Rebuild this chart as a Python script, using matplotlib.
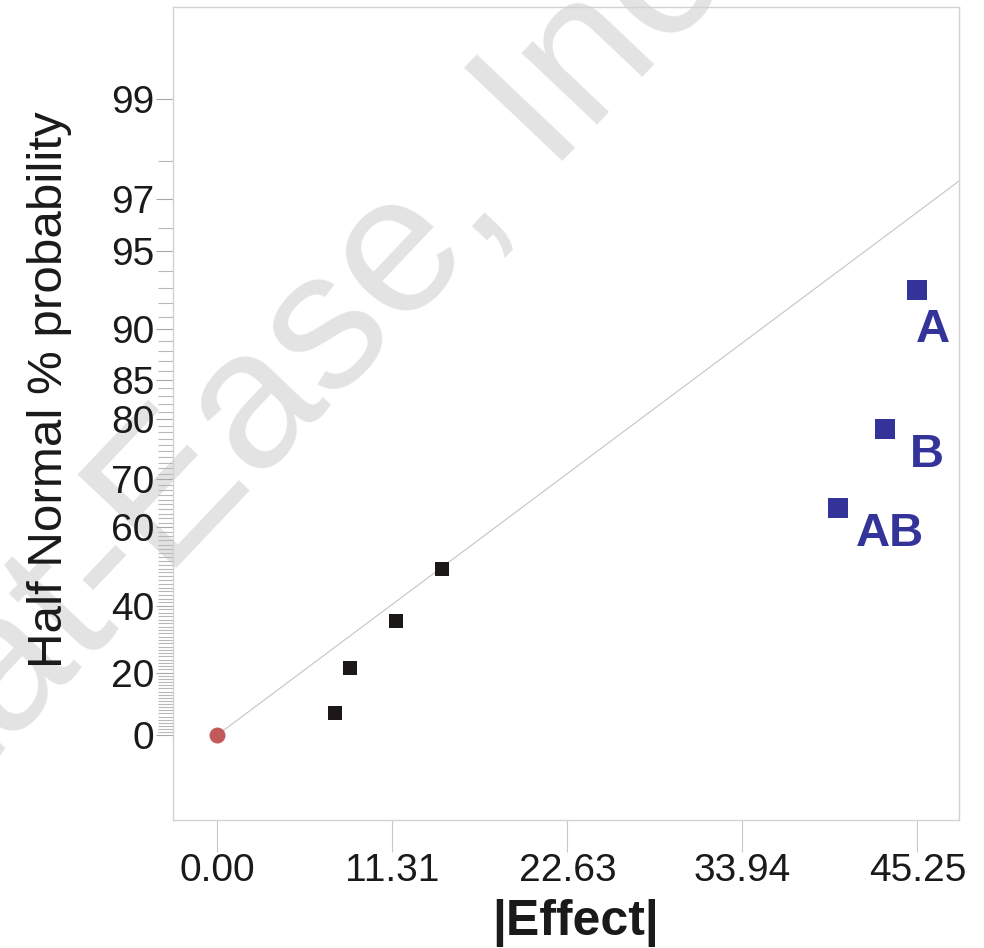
import math
from statistics import NormalDist
import numpy as np
import matplotlib
matplotlib.use("Agg")
import matplotlib.pyplot as plt

plt.rcParams['font.family'] = ['Liberation Sans', 'DejaVu Sans']

# ---------------- data ----------------
effect_error = [7.61, 8.60, 11.57, 14.54]          # |effect| of error terms
prob_error = [7.14, 21.43, 35.71, 50.00]           # half-normal % probability

effect_terms = [40.12, 43.15, 45.25]               # significant terms
prob_terms = [64.29, 78.57, 92.86]
term_names = ["AB", "B", "A"]

origin_effect = [0.0]
origin_prob = [0.0]

line_effect = [0.0, 48.0]                           # reference line
line_prob = [0.0, 97.54]

xtick_vals = [0.00, 11.31, 22.63, 33.94, 45.25]
ytick_major = [0, 20, 40, 60, 70, 80, 85, 90, 95, 97, 99]
ytick_minor = [v for v in range(1, 99) if v not in ytick_major]

# ---------------- half-normal scale ----------------
_nd = NormalDist()
_ppf = np.vectorize(_nd.inv_cdf, otypes=[float])
_erf = np.vectorize(math.erf, otypes=[float])


def fwd(p):
    p = np.asarray(p, dtype=float)
    q = np.clip(0.5 + p / 200.0, 1e-12, 1 - 1e-12)
    return _ppf(q)


def inv(z):
    z = np.asarray(z, dtype=float)
    return 100.0 * _erf(z / math.sqrt(2.0))


fig = plt.figure(figsize=(9.84, 9.48), dpi=100)
fig.patch.set_facecolor('white')

# watermark
fig.text(324 / 984, 1 - 413 / 948, "Stat-Ease, Inc.", rotation=46.5,
         rotation_mode='anchor', ha='center', va='baseline',
         fontsize=142, color='#e3e3e3', zorder=-1)

ax = fig.add_axes([173.3 / 984, 1 - 820 / 948, (959 - 173.3) / 984, (820 - 7.5) / 948])
ax.set_facecolor('none')
ax.set_yscale('function', functions=(fwd, inv))

ax.plot(line_effect, line_prob, color='#c4c4c4', lw=0.8, zorder=2)
ax.plot(origin_effect, origin_prob, 'o', color='#c25a5c', ms=11.5, zorder=3,
        markeredgewidth=0)
ax.plot(effect_error, prob_error, 's', color='#1c1818', ms=9.4, zorder=3,
        markeredgewidth=0)
ax.plot(effect_terms, prob_terms, 's', color='#333399', ms=14.4, zorder=3,
        markeredgewidth=0)

label_offsets = {"AB": (18, -4), "B": (25, -4), "A": (-2, -18)}
for x, y, name in zip(effect_terms, prob_terms, term_names):
    dx, dy = label_offsets[name]
    ax.annotate(name, (x, y), xytext=(dx, dy), textcoords='offset pixels',
                ha='left', va='top', fontsize=34, fontweight='bold',
                color='#333399', zorder=4)

ax.set_xlim(-2.84, 47.94)
ax.set_ylim(float(inv(-0.344)), float(inv(2.948)))

ax.set_xticks(xtick_vals)
ax.set_xticklabels([f"{v:.2f}" for v in xtick_vals])
ax.set_yticks(ytick_major)
ax.set_yticklabels([str(v) for v in ytick_major])
ax.set_yticks(ytick_minor, minor=True)
ax.xaxis.set_minor_locator(matplotlib.ticker.NullLocator())

ax.tick_params(axis='x', which='major', direction='out', length=23, width=0.8,
               color='#c8c8c8', labelsize=28, pad=0.5, labelcolor='#1a1a1a')
ax.tick_params(axis='y', which='major', direction='out', length=12, width=0.8,
               color='#a8a8a8', labelsize=28, pad=1.5, labelcolor='#1a1a1a')
ax.tick_params(axis='y', which='minor', direction='out', length=10.5, width=0.8,
               color='#b8b8b8')

for sp in ax.spines.values():
    sp.set_color('#d2d2d2')
    sp.set_linewidth(1.0)

ax.set_xlabel("|Effect|", fontsize=36, fontweight='bold', color='#1a1a1a')
ax.xaxis.set_label_coords(0.5125, -0.097)
ax.xaxis.label.set_va('top')
ax.set_ylabel("Half Normal % probability", fontsize=35.5, color='#1a1a1a')
ax.yaxis.set_label_coords(-0.129, 0.53)

fig.savefig("out.png", dpi=100, facecolor='white')
